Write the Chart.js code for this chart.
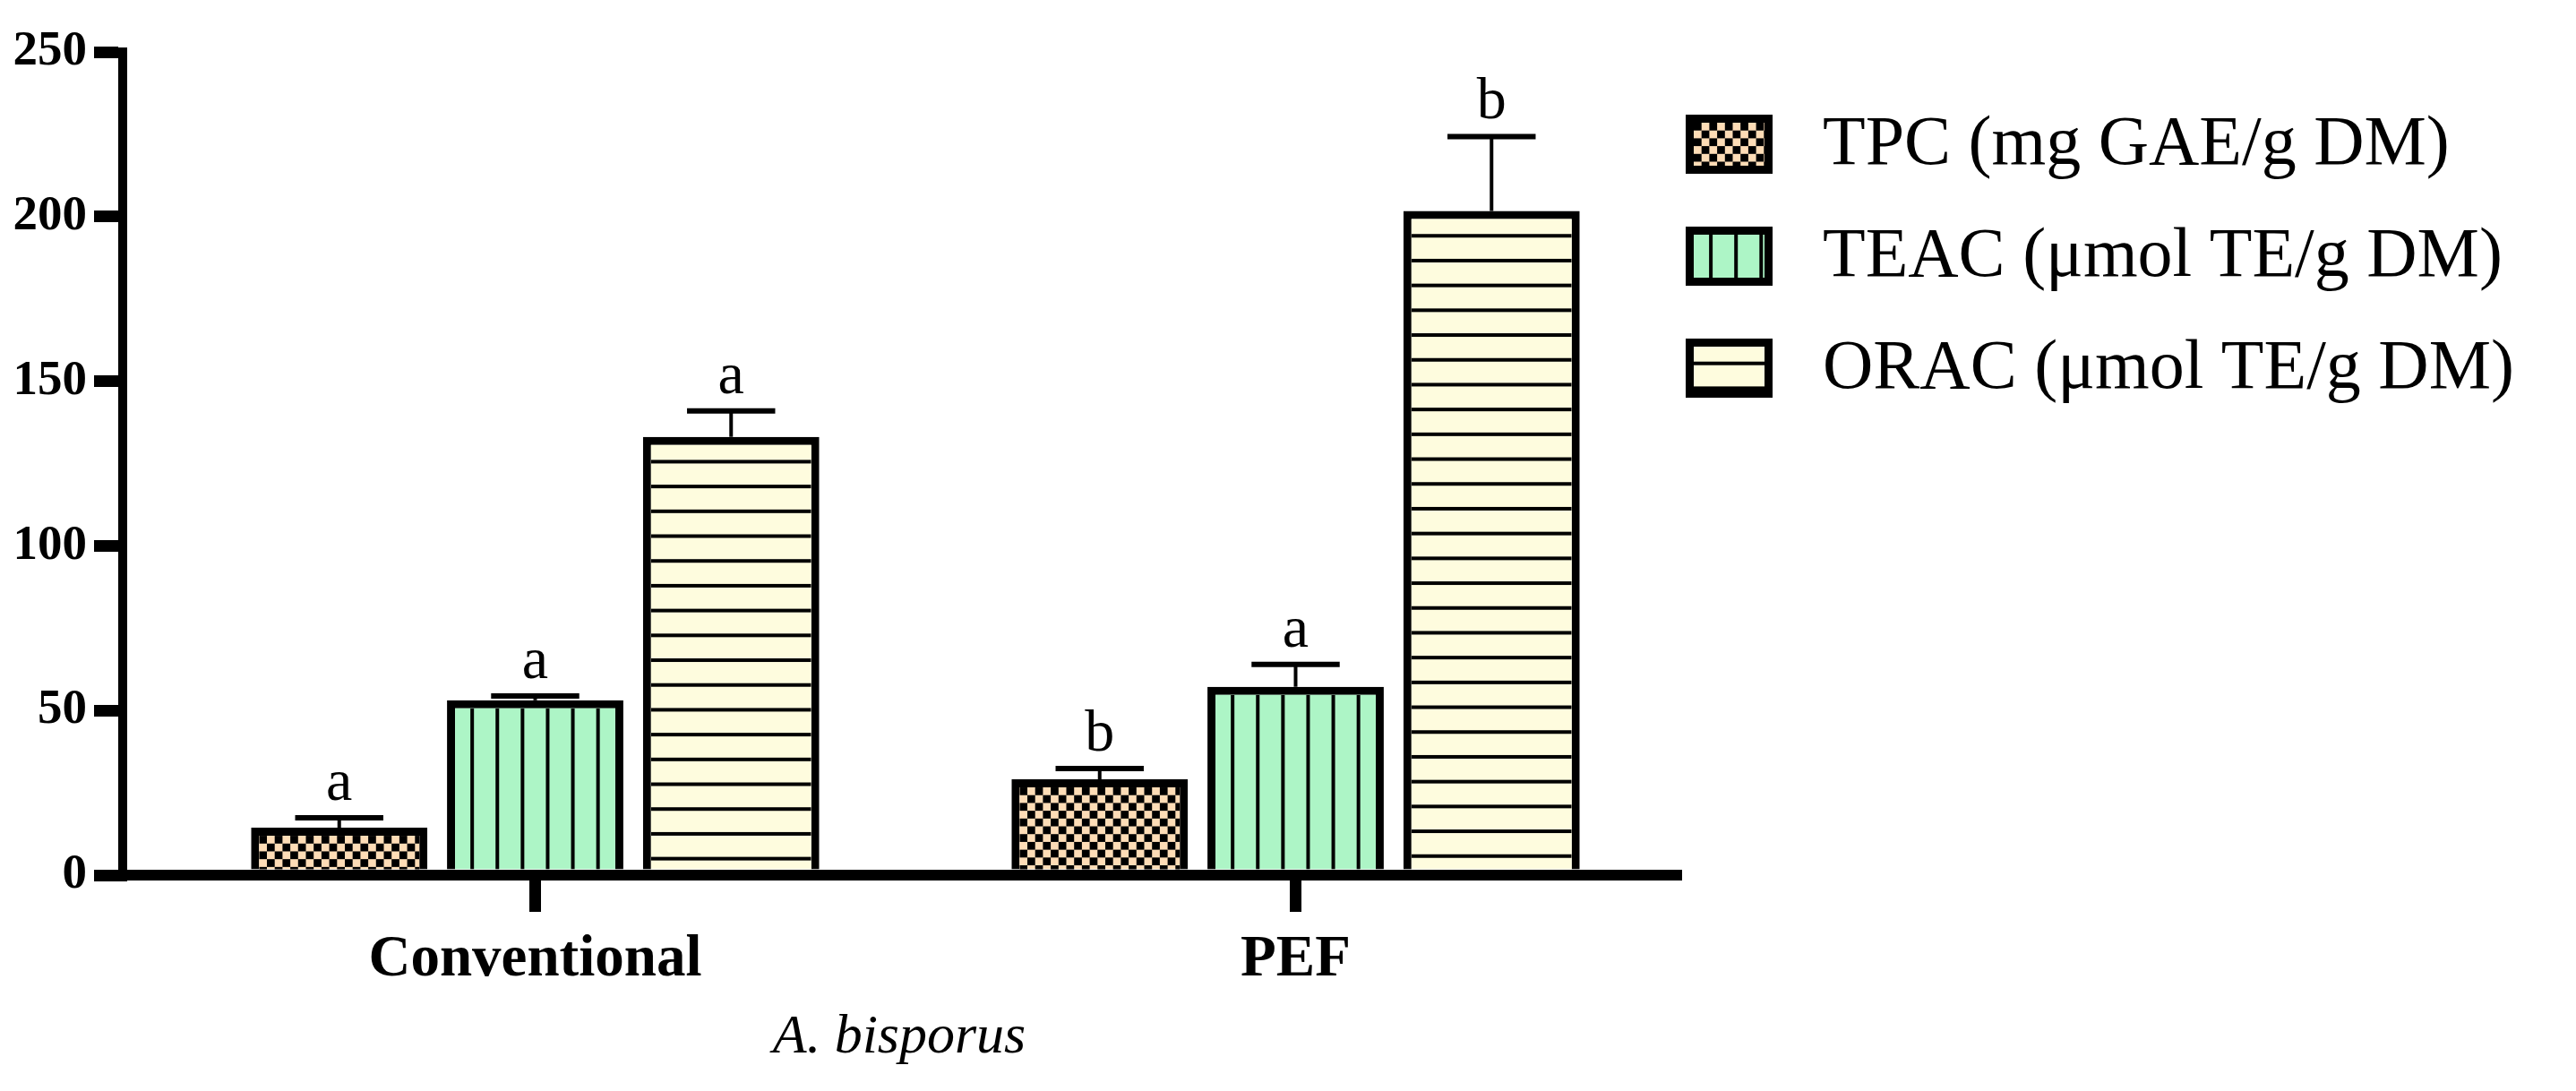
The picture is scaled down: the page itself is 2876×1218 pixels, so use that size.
<!DOCTYPE html>
<html>
<head>
<meta charset="utf-8">
<script src="https://cdn.jsdelivr.net/npm/chart.js@4.4.1/dist/chart.umd.min.js"></script>
<style>
  html, body { margin: 0; padding: 0; background: #fff; }
  canvas { display: block; }
</style>
</head>
<body>
<canvas id="chart" width="2876" height="1218"></canvas>
<script>
// A. bisporus – TPC / TEAC / ORAC, conventional vs PEF extraction
var CATEGORIES = ['Conventional', 'PEF'];
var SERIES = ['TPC (mg GAE/g DM)', 'TEAC (μmol TE/g DM)', 'ORAC (μmol TE/g DM)'];

var TPC = [14.4, 29.1];
var TPC_SD = [3.0, 3.3];
var TEAC = [53.1, 57.2];
var TEAC_SD = [1.3, 6.8];
var ORAC = [133.1, 201.7];
var ORAC_SD = [7.9, 22.6];

var TPC_LETTERS = ['a', 'b'];
var TEAC_LETTERS = ['a', 'a'];
var ORAC_LETTERS = ['a', 'b'];

var Y_TICKS = [0, 50, 100, 150, 200, 250];
var X_TITLE = 'A. bisporus';

var VALUES = [TPC, TEAC, ORAC];
var SDS = [TPC_SD, TEAC_SD, ORAC_SD];
var LETTERS = [TPC_LETTERS, TEAC_LETTERS, ORAC_LETTERS];

var SERIF = '"Liberation Serif", "Times New Roman", serif';
var FILLS = ['#fddcb6', '#adf5c6', '#fefcde'];
var KINDS = ['checks', 'vlines', 'hlines'];
var BW = 9; // bar outline

// draw the hatch inside an outlined box (outer rect l,t,r,b)
function hatch(ctx, kind, l, t, r, b) {
    var il = l + BW, ir = r - BW, it = t + BW;
    ctx.save();
    ctx.beginPath();
    ctx.rect(il, it, ir - il, b - it);
    ctx.clip();
    ctx.fillStyle = '#000';
    if (kind === 'checks') {
        var c = 8.7;
        for (var y = it, row = 0; y < b; y += c, row++) {
            for (var x = il, col = 0; x < ir; x += c, col++) {
                if ((row + col) % 2 === 0) ctx.fillRect(x, y, c, c);
            }
        }
    } else if (kind === 'vlines') {
        for (var vx = l + 28.1; vx < r - 5; vx += 28.1) ctx.fillRect(vx - 2, it, 4, b - it);
    } else {
        for (var hy = t + 27.7; hy < b; hy += 27.7) ctx.fillRect(il, hy - 2, ir - il, 4);
    }
    ctx.restore();
}

var decor = {
    id: 'decor',
    afterDatasetsDraw: function (chart) {
        var ctx = chart.ctx;
        var ys = chart.scales.y;
        chart.data.datasets.forEach(function (ds, i) {
            var meta = chart.getDatasetMeta(i);
            meta.data.forEach(function (bar, j) {
                var p = bar.getProps(['x', 'y', 'base', 'width'], true);
                hatch(ctx, KINDS[i], p.x - p.width / 2, p.y, p.x + p.width / 2, p.base);

                // upper error bar
                var ye = ys.getPixelForValue(VALUES[i][j] + SDS[i][j]);
                ctx.save();
                ctx.strokeStyle = '#000';
                ctx.lineWidth = 4;
                ctx.beginPath();
                ctx.moveTo(p.x, p.y);
                ctx.lineTo(p.x, ye);
                ctx.stroke();
                ctx.lineWidth = 6;
                ctx.beginPath();
                ctx.moveTo(p.x - p.width / 4, ye);
                ctx.lineTo(p.x + p.width / 4, ye);
                ctx.stroke();

                ctx.fillStyle = '#000';
                ctx.font = '66px ' + SERIF;
                ctx.textAlign = 'center';
                ctx.textBaseline = 'alphabetic';
                ctx.fillText(LETTERS[i][j], p.x, ye - 20);
                ctx.restore();
            });
        });
    },
    afterDraw: function (chart) {
        var ctx = chart.ctx;
        chart.data.datasets.forEach(function (ds, i) {
            var l = 1882, t = 128 + i * 125, w = 97, h = 66;
            ctx.save();
            ctx.fillStyle = '#000';
            ctx.fillRect(l, t, w, h);
            ctx.fillStyle = FILLS[i];
            ctx.fillRect(l + BW, t + BW, w - 2 * BW, h - 2 * BW);
            ctx.restore();
            hatch(ctx, KINDS[i], l, t, l + w, t + h - BW);
            ctx.save();
            ctx.fillStyle = '#000';
            ctx.font = '78px ' + SERIF;
            ctx.textAlign = 'left';
            ctx.textBaseline = 'middle';
            ctx.fillText(ds.label, 2035, t + h / 2 + 2);
            ctx.restore();
        });
    }
};

var datasets = SERIES.map(function (name, i) {
    return {
        label: name,
        data: CATEGORIES.map(function (c, j) { return { x: j, y: VALUES[i][j] }; }),
        backgroundColor: FILLS[i],
        borderColor: '#000',
        borderWidth: BW
    };
});

new Chart(document.getElementById('chart').getContext('2d'), {
    type: 'bar',
    data: { datasets: datasets },
    options: {
        responsive: false,
        animation: false,
        devicePixelRatio: 1,
        layout: { padding: { top: 58, right: 1005, bottom: 0, left: 0 } },
        datasets: { bar: { categoryPercentage: 0.773, barPercentage: 0.9 } },
        plugins: { legend: { display: false }, tooltip: { enabled: false } },
        scales: {
            x: {
                type: 'linear',
                offset: false,
                min: -0.5424,
                max: 1.5,
                afterBuildTicks: function (axis) {
                    axis.ticks = CATEGORIES.map(function (c, i) { return { value: i }; });
                },
                afterFit: function (axis) { axis.height = 241; },
                ticks: {
                    autoSkip: false,
                    maxRotation: 0,
                    padding: 15,
                    color: '#000',
                    font: { family: SERIF, size: 65, weight: 'bold', lineHeight: 1.2 },
                    callback: function (v) { return CATEGORIES[v]; }
                },
                grid: { offset: false, drawOnChartArea: false, drawTicks: true, tickLength: 41, tickWidth: 13, tickColor: '#000', lineWidth: 13, color: '#000' },
                border: { display: true, color: '#000', width: 12, z: 1 },
                title: {
                    display: true,
                    text: X_TITLE,
                    color: '#000',
                    font: { family: SERIF, size: 62, style: 'italic', lineHeight: 1.2 },
                    padding: { top: 0, bottom: 22 }
                }
            },
            y: {
                min: 0,
                max: 250,
                afterBuildTicks: function (axis) {
                    axis.ticks = Y_TICKS.map(function (v) { return { value: v }; });
                },
                afterFit: function (axis) { axis.width = 137; },
                ticks: { padding: 8, color: '#000', font: { family: SERIF, size: 55, weight: 'bold' } },
                grid: { drawOnChartArea: false, drawTicks: true, tickLength: 32, tickWidth: 13, tickColor: '#000', lineWidth: 13, color: '#000' },
                border: { display: true, color: '#000', width: 10 }
            }
        }
    },
    plugins: [decor]
});
</script>
</body>
</html>
